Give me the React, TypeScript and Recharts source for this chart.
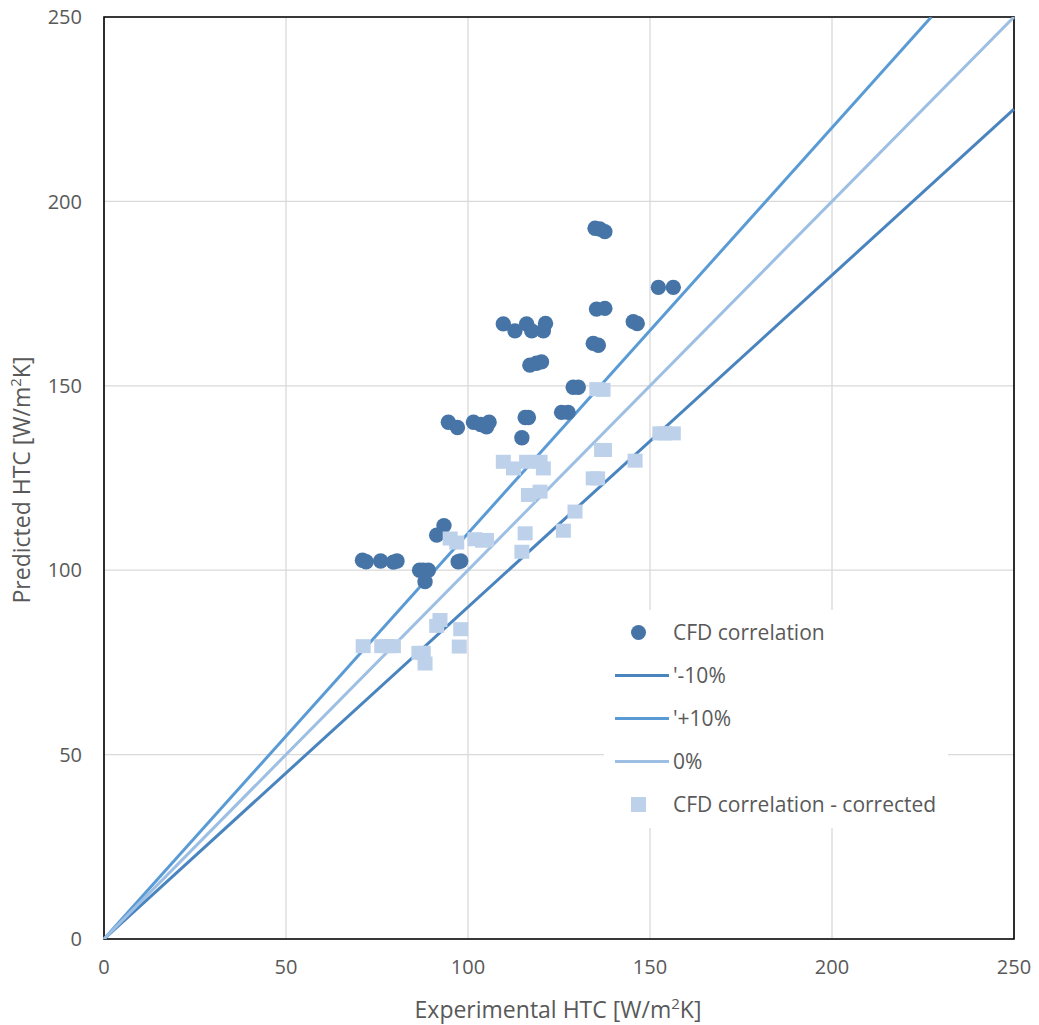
import React from 'react';
import {
  ComposedChart,
  Scatter,
  XAxis,
  YAxis,
  CartesianGrid,
  ReferenceArea,
} from 'recharts';

// CFD correlation (experimental vs predicted HTC)
const cfdX = [71, 72, 76, 79.5, 80.5, 86.7, 87.7, 89.1, 88.2, 91.4, 93.4, 97.3, 98, 94.6, 97.1, 101.5, 103.5, 105.1, 105.8, 114.8, 115.7, 116.6, 125.7, 127.5, 128.9, 130.3, 109.7, 112.9, 116.1, 117.5, 120.7, 121.3, 117, 118.8, 120.2, 134.4, 135.8, 135.3, 137.6, 134.9, 136.2, 137.6, 152.3, 156.4, 145.4, 146.5];
const cfdY = [102.7, 102.3, 102.5, 102.2, 102.5, 100, 100, 100, 96.9, 109.5, 112.1, 102.3, 102.5, 140.1, 138.7, 140.1, 139.5, 138.9, 140.1, 135.9, 141.4, 141.4, 142.8, 142.8, 149.6, 149.6, 166.8, 164.9, 166.8, 164.9, 164.9, 166.9, 155.6, 156.1, 156.5, 161.5, 161, 170.8, 171, 192.7, 192.5, 191.8, 176.7, 176.7, 167.4, 166.9];

// CFD correlation - corrected
const corrX = [109.7, 112.5, 116.1, 119.8, 120.7, 116.6, 119.8, 115.7, 114.8, 126.2, 129.4, 134.4, 135.6, 136.7, 137.5, 135.4, 137.1, 145.9, 152.7, 154.1, 156.4, 95.1, 96.9, 101.9, 104, 105.1, 92.3, 91.4, 98, 97.6, 71.2, 76.3, 78, 79.5, 86.5, 87.7, 88.2];
const corrY = [129.4, 127.6, 129.4, 129.4, 127.6, 120.4, 121.3, 110, 105, 110.7, 115.9, 124.9, 124.9, 132.6, 132.6, 149.1, 148.9, 129.7, 137.1, 137.1, 137.1, 108.6, 107.5, 108.4, 108, 108.2, 86.5, 84.9, 84, 79.3, 79.4, 79.4, 79.4, 79.4, 77.6, 77.6, 74.7];

// deviation bands: y = k * x
const bandMinus = [{ x: 0, y: 0 }, { x: 250, y: 225 }];
const bandPlus = [{ x: 0, y: 0 }, { x: 250 / 1.1, y: 250 }];
const bandZero = [{ x: 0, y: 0 }, { x: 250, y: 250 }];

const ticks = [0, 50, 100, 150, 200, 250];

const cfdData = cfdX.map((x, i) => ({ x, y: cfdY[i] }));
const corrData = corrX.map((x, i) => ({ x, y: corrY[i] }));

const C_CFD = '#4674A6';
const C_CORR = '#BDD1EA';
const C_MINUS = '#4A84BF';
const C_PLUS = '#5B9BD5';
const C_ZERO = '#9DBFE3';
const FONT = '"Open Sans", sans-serif';
const TXT = '#595959';

const Dot = (props: any) => <circle cx={props.cx} cy={props.cy} r={7.7} fill={C_CFD} />;
const Sq = (props: any) => (
  <rect x={props.cx - 7.5} y={props.cy - 7} width={15} height={14} fill={C_CORR} />
);
const NoShape = () => null;

const legendRows = [
  { label: 'CFD correlation', kind: 'dot', color: C_CFD },
  { label: "'-10%", kind: 'line', color: C_MINUS },
  { label: "'+10%", kind: 'line', color: C_PLUS },
  { label: '0%', kind: 'line', color: C_ZERO },
  { label: 'CFD correlation - corrected', kind: 'sq', color: C_CORR },
];

export default function App() {
  return (
    <div style={{ position: 'absolute', left: 0, top: 0, width: 1039, height: 1025, background: '#fff' }}>
      <ComposedChart width={1039} height={1025} margin={{ top: 17, right: 25, left: 0, bottom: 0 }}>
        <CartesianGrid stroke="#D9D9D9" strokeWidth={1.3} />
        <XAxis
          type="number"
          dataKey="x"
          domain={[0, 250]}
          ticks={ticks}
          height={86}
          tickSize={0}
          tickMargin={21}
          axisLine={false}
          tick={{ fill: TXT, fontSize: 20, fontFamily: FONT }}
        />
        <YAxis
          type="number"
          dataKey="y"
          domain={[0, 250]}
          ticks={ticks}
          width={104}
          tickSize={0}
          tickMargin={22}
          axisLine={false}
          allowDataOverflow
          tick={{ fill: TXT, fontSize: 20, fontFamily: FONT }}
        />
        <Scatter data={bandMinus} line={{ stroke: C_MINUS, strokeWidth: 3 }} shape={NoShape} isAnimationActive={false} />
        <Scatter data={bandPlus} line={{ stroke: C_PLUS, strokeWidth: 3 }} shape={NoShape} isAnimationActive={false} />
        <Scatter data={bandZero} line={{ stroke: C_ZERO, strokeWidth: 3 }} shape={NoShape} isAnimationActive={false} />
        <Scatter data={cfdData} shape={Dot} isAnimationActive={false} />
        <Scatter data={corrData} shape={Sq} isAnimationActive={false} />
        <ReferenceArea x1={0} x2={250} y1={0} y2={250} fill="none" stroke="#000" strokeWidth={1.6} fillOpacity={0} />
      </ComposedChart>

      <svg style={{ position: 'absolute', left: 0, top: 0 }} width={1039} height={1025} pointerEvents="none">
        <text x={558} y={1018} textAnchor="middle" fill={TXT} fontSize={23} fontFamily={FONT}>
          Experimental HTC [W/m<tspan dy={-9} fontSize={15}>2</tspan><tspan dy={9}>K]</tspan>
        </text>
        <text x={30} y={480} textAnchor="middle" fill={TXT} fontSize={23} fontFamily={FONT} transform="rotate(-90 30 480)">
          Predicted HTC [W/m<tspan dy={-9} fontSize={15}>2</tspan><tspan dy={9}>K]</tspan>
        </text>
      </svg>

      <div
        style={{
          position: 'absolute',
          left: 604,
          top: 610,
          width: 344,
          height: 218,
          background: '#fff',
          fontFamily: FONT,
          fontSize: 21,
          color: TXT,
        }}
      >
        {legendRows.map((r, i) => (
          <div key={r.label} style={{ position: 'absolute', left: 0, top: 22 + i * 43 - 14, height: 28, display: 'flex', alignItems: 'center' }}>
            <div style={{ width: 69, display: 'flex', justifyContent: r.kind === 'line' ? 'flex-start' : 'center', paddingLeft: r.kind === 'line' ? 11 : 0, boxSizing: 'border-box' }}>
              {r.kind === 'dot' && <span style={{ width: 15, height: 15, borderRadius: '50%', background: r.color }} />}
              {r.kind === 'sq' && <span style={{ width: 15, height: 15, background: r.color }} />}
              {r.kind === 'line' && <span style={{ width: 54, height: 3, background: r.color }} />}
            </div>
            <span style={{ whiteSpace: 'nowrap' }}>{r.label}</span>
          </div>
        ))}
      </div>
    </div>
  );
}
